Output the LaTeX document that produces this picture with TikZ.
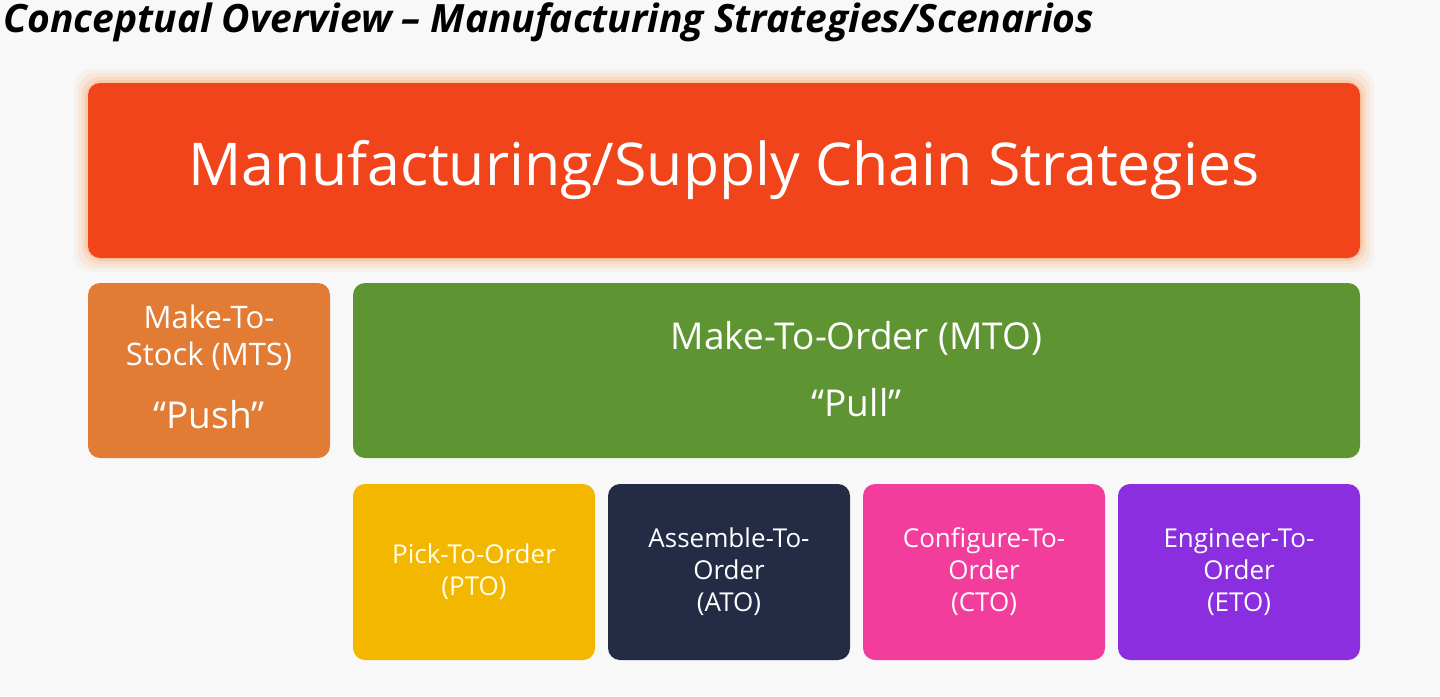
\documentclass[tikz,border=0pt]{standalone}
\usepackage{fontspec}
\setmainfont{Open Sans}
\definecolor{bg}{HTML}{F8F8F8}
\definecolor{cred}{HTML}{F2441A}
\definecolor{cglow}{HTML}{F7A060}
\definecolor{corange}{HTML}{E27B33}
\definecolor{cgreen}{HTML}{5E9432}
\definecolor{cyellow}{HTML}{F4B700}
\definecolor{cnavy}{HTML}{232B45}
\definecolor{cpink}{HTML}{F23D9C}
\definecolor{cpurple}{HTML}{8A2EE0}
\begin{document}
\begin{tikzpicture}[x=1pt,y=-1pt,
  box/.style={rounded corners=12pt,text=white,align=center,inner sep=0pt},
  small/.style={font=\fontsize{26}{32}\selectfont}]
\fill[bg] (0,0) rectangle (1440,696);
\useasboundingbox (0,0) rectangle (1440,696);
\node[anchor=west,font=\fontsize{39}{40}\selectfont\bfseries\itshape] (title) at (0,22) {Conceptual Overview -- Manufacturing Strategies/Scenarios};
\foreach \g/\o in {14/0.08,10/0.12,6/0.18,3/0.25}
  \fill[cglow,opacity=\o,rounded corners=18pt] (88-\g,83-\g) rectangle (1360+\g,258+\g);
\node[box,fill=cred,minimum width=1272pt,minimum height=175pt,font=\fontsize{59}{64}\selectfont] (main) at (724,170.5) {Manufacturing/Supply Chain Strategies};
\node[box,fill=corange,minimum width=242pt,minimum height=175pt] (mts) at (209,370.5) {};
\node[text=white,align=center,font=\fontsize{31}{37}\selectfont] (mtst) at (209,338) {Make-To-\\Stock (MTS)};
\node[text=white,font=\fontsize{37}{40}\selectfont] (push) at (209,415) {“Push”};
\node[box,fill=cgreen,minimum width=1007pt,minimum height=175pt] (mto) at (856.5,370.5) {};
\node[text=white,font=\fontsize{37}{40}\selectfont] (mtot) at (856.5,338) {Make-To-Order (MTO)};
\node[text=white,font=\fontsize{37}{40}\selectfont] (pull) at (856.5,403) {“Pull”};
\node[box,small,fill=cyellow,text=white!92!yellow,minimum width=242pt,minimum height=176pt] (pto) at (474,572) {Pick-To-Order\\(PTO)};
\node[box,small,fill=cnavy,minimum width=242pt,minimum height=176pt] (ato) at (729,572) {Assemble-To-\\Order\\(ATO)};
\node[box,small,fill=cpink,minimum width=242pt,minimum height=176pt] (cto) at (984,572) {Configure-To-\\Order\\(CTO)};
\node[box,small,fill=cpurple,minimum width=242pt,minimum height=176pt] (eto) at (1239,572) {Engineer-To-\\Order\\(ETO)};
\end{tikzpicture}
\end{document}
